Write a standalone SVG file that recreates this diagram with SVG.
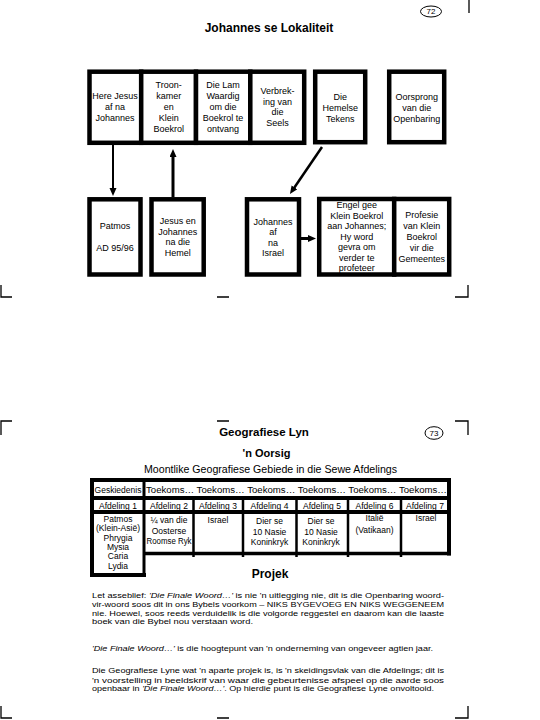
<svg xmlns="http://www.w3.org/2000/svg" width="540" height="720" viewBox="0 0 540 720">
<style>
.bx{fill:#fff;stroke:#000;stroke-width:4.5}
.t{font-family:"Liberation Sans",Arial,sans-serif;font-size:9px;fill:#000;text-anchor:middle}
.tb{font-family:"Liberation Sans",Arial,sans-serif;font-size:8.5px;fill:#000;text-anchor:middle}
.p{font-family:"Liberation Sans",Arial,sans-serif;font-size:8px;fill:#000}
.h{font-family:"Liberation Sans",Arial,sans-serif;font-weight:bold;fill:#000;text-anchor:middle}
.i{font-style:italic}
.mk{fill:none;stroke:#000;stroke-width:1.3}
.ln{stroke:#000;fill:none}
.arr{stroke:#000;fill:none;marker-end:url(#ah)}
</style>
<defs>
<marker id="ah" markerUnits="userSpaceOnUse" markerWidth="8" markerHeight="8" refX="1" refY="3.5" orient="auto">
<path d="M0,0 L8,3.5 L0,7 z" fill="#000"/>
</marker>
</defs>
<rect width="540" height="720" fill="#fff"/>

<g id="cropmarks">
<path class="mk" d="M469,0 V13"/>
<path class="mk" d="M1,285 V297 H12 M217,297 H229 M455,297 H468 V285"/>
<path class="mk" d="M1,435 V421 H12 M217,421 H229 M455,421 H468 V435"/>
<path class="mk" d="M1,706 V718 H12 M217,718 H229 M455,718 H468 V706"/>
</g>

<g id="page72">
<ellipse cx="431" cy="11.5" rx="10.5" ry="5.5" fill="none" stroke="#000" stroke-width="1"/>
<text class="t" x="431" y="14.3" style="font-size:8px">72</text>
</g>
<text id="title1" class="h" x="269" y="31.5" style="font-size:12px">Johannes se Lokaliteit</text>

<g id="n-here-jesus">
<rect class="bx" x="89.5" y="71.7" width="51.7" height="71.1"/>
<text class="t" x="115" y="99">Here Jesus</text>
<text class="t" x="115" y="110">af na</text>
<text class="t" x="115" y="121">Johannes</text>
</g>
<g id="n-troonkamer">
<rect class="bx" x="141.2" y="71.7" width="54.8" height="71.1"/>
<text class="t" x="168.7" y="88">Troon-</text>
<text class="t" x="168.7" y="99">kamer</text>
<text class="t" x="168.7" y="110">en</text>
<text class="t" x="168.7" y="121">Klein</text>
<text class="t" x="168.7" y="132">Boekrol</text>
</g>
<g id="n-lam">
<rect class="bx" x="196" y="71.7" width="54.3" height="71.1"/>
<text class="t" x="223" y="88">Die Lam</text>
<text class="t" x="223" y="99">Waardig</text>
<text class="t" x="223" y="110">om die</text>
<text class="t" x="223" y="121">Boekrol te</text>
<text class="t" x="223" y="132">ontvang</text>
</g>
<g id="n-seels">
<rect class="bx" x="250.3" y="71.7" width="53.9" height="71.1"/>
<text class="t" x="277.5" y="94">Verbrek-</text>
<text class="t" x="277.5" y="104.7">ing van</text>
<text class="t" x="277.5" y="115.3">die</text>
<text class="t" x="277.5" y="126">Seels</text>
</g>
<g id="n-tekens">
<rect class="bx" x="315.2" y="71.7" width="50" height="70.5"/>
<text class="t" x="340.2" y="100">Die</text>
<text class="t" x="340.2" y="111">Hemelse</text>
<text class="t" x="340.2" y="121.5">Tekens</text>
</g>
<g id="n-oorsprong">
<rect class="bx" x="389.2" y="71.7" width="55" height="70.5"/>
<text class="t" x="416.7" y="100">Oorsprong</text>
<text class="t" x="416.7" y="111">van die</text>
<text class="t" x="416.7" y="121.5">Openbaring</text>
</g>

<g id="n-patmos">
<rect class="bx" x="89.5" y="199.3" width="51" height="75.2"/>
<text class="t" x="115" y="229">Patmos</text>
<text class="t" x="115" y="251">AD 95/96</text>
</g>
<g id="n-hemel">
<rect class="bx" x="151.5" y="199.3" width="52.2" height="75.2"/>
<text class="t" x="177.7" y="224">Jesus en</text>
<text class="t" x="177.7" y="234.7">Johannes</text>
<text class="t" x="177.7" y="245.3">na die</text>
<text class="t" x="177.7" y="256">Hemel</text>
</g>
<g id="n-israel">
<rect class="bx" x="247" y="199.3" width="52" height="75.2"/>
<text class="t" x="273" y="224.7">Johannes</text>
<text class="t" x="273" y="235">af</text>
<text class="t" x="273" y="245.5">na</text>
<text class="t" x="273" y="256">Israel</text>
</g>
<g id="n-engel">
<rect class="bx" x="319.2" y="199" width="75" height="75.5"/>
<text class="t" x="356.7" y="208">Engel gee</text>
<text class="t" x="356.7" y="218.5">Klein Boekrol</text>
<text class="t" x="356.7" y="229">aan Johannes;</text>
<text class="t" x="356.7" y="239.5">Hy word</text>
<text class="t" x="356.7" y="250">gevra om</text>
<text class="t" x="356.7" y="260.5">verder te</text>
<text class="t" x="356.7" y="271">profeteer</text>
</g>
<g id="n-profesie">
<rect class="bx" x="394.2" y="199" width="55" height="75.5"/>
<text class="t" x="421.7" y="218">Profesie</text>
<text class="t" x="421.7" y="229">van Klein</text>
<text class="t" x="421.7" y="240">Boekrol</text>
<text class="t" x="421.7" y="251">vir die</text>
<text class="t" x="421.7" y="261.5">Gemeentes</text>
</g>

<g id="connectors">
<line class="arr" x1="113" y1="145" x2="113" y2="189" stroke-width="2"/>
<line class="arr" x1="173" y1="197" x2="173" y2="156" stroke-width="3"/>
<line class="arr" x1="322" y1="147" x2="293.9" y2="188.2" stroke-width="2.5"/>
<line class="arr" x1="300" y1="238.5" x2="309" y2="238.5" stroke-width="3"/>
</g>

<text id="title2" class="h" x="264" y="436" style="font-size:11.5px">Geografiese Lyn</text>
<g id="page73">
<ellipse cx="434" cy="433" rx="9" ry="6.3" fill="none" stroke="#000" stroke-width="1"/>
<text class="t" x="434" y="436" style="font-size:8px">73</text>
</g>
<text id="sub" class="h" x="266.5" y="457" style="font-size:11px">'n Oorsig</text>
<text id="sub2" class="t" x="270.5" y="472.5" style="font-size:10px" textLength="253" lengthAdjust="spacingAndGlyphs">Moontlike Geografiese Gebiede in die Sewe Afdelings</text>

<g id="table">
<path class="ln" stroke-width="4" d="M90,480 H451 M92,478 V577 M449,478 V555.5 M90,498 H451 M90,512 H451 M90,575 H146"/>
<path class="ln" stroke-width="3.5" d="M143,553.5 H451"/>
<path class="ln" stroke-width="3" d="M144,478 V577"/>
<path class="ln" stroke-width="2.5" d="M193.5,498 V557 M243,498 V557 M296.5,498 V557 M348,498 V557 M401,498 V557"/>
<text class="tb" x="118" y="493">Geskiedenis</text>
<text class="tb" x="146" y="493" style="text-anchor:start" textLength="301" lengthAdjust="spacingAndGlyphs">Toekoms… Toekoms… Toekoms… Toekoms… Toekoms… Toekoms…</text>
<text class="tb" x="118" y="508.5">Afdeling 1</text>
<text class="tb" x="169" y="508.5">Afdeling 2</text>
<text class="tb" x="218" y="508.5">Afdeling 3</text>
<text class="tb" x="269.5" y="508.5">Afdeling 4</text>
<text class="tb" x="322" y="508.5">Afdeling 5</text>
<text class="tb" x="374.5" y="508.5">Afdeling 6</text>
<text class="tb" x="425" y="508.5">Afdeling 7</text>
<text class="tb" x="118" y="522">Patmos</text>
<text class="tb" x="118" y="531.3">(Klein-Asië)</text>
<text class="tb" x="118" y="540.6">Phrygia</text>
<text class="tb" x="118" y="549.9">Mysia</text>
<text class="tb" x="118" y="559.2">Caria</text>
<text class="tb" x="118" y="568.5">Lydia</text>
<text class="tb" x="169" y="523">¼ van die</text>
<text class="tb" x="169" y="533.5">Oosterse</text>
<text class="tb" x="169" y="544" textLength="45" lengthAdjust="spacingAndGlyphs">Roomse Ryk</text>
<text class="tb" x="218" y="523">Israel</text>
<text class="tb" x="269.5" y="524">Dier se</text>
<text class="tb" x="269.5" y="534.5">10 Nasie</text>
<text class="tb" x="269.5" y="545">Koninkryk</text>
<text class="tb" x="321" y="524">Dier se</text>
<text class="tb" x="321" y="534.5">10 Nasie</text>
<text class="tb" x="321" y="545">Koninkryk</text>
<text class="tb" x="374.5" y="521">Italië</text>
<text class="tb" x="374.5" y="533">(Vatikaan)</text>
<text class="tb" x="426" y="521">Israel</text>
</g>

<text id="projek" class="h" x="270" y="577.5" style="font-size:12px">Projek</text>
<g id="paragraphs">
<text class="p" x="92" y="598" textLength="352" lengthAdjust="spacingAndGlyphs">Let asseblief: <tspan class="i">'Die Finale Woord…'</tspan> is nie 'n uitlegging nie, dit is die Openbaring woord-</text>
<text class="p" x="92" y="607" textLength="352" lengthAdjust="spacingAndGlyphs">vir-woord soos dit in ons Bybels voorkom – NIKS BYGEVOEG EN NIKS WEGGENEEM</text>
<text class="p" x="92" y="615.5" textLength="352" lengthAdjust="spacingAndGlyphs">nie. Hoewel, soos reeds verduidelik is die volgorde reggestel en daarom kan die laaste</text>
<text class="p" x="92" y="624" textLength="161" lengthAdjust="spacingAndGlyphs">boek van die Bybel nou verstaan word.</text>
<text class="p" x="92" y="650.5" textLength="341" lengthAdjust="spacingAndGlyphs"><tspan class="i">'Die Finale Woord…'</tspan> is die hoogtepunt van 'n onderneming van ongeveer agtien jaar.</text>
<text class="p" x="92" y="673" textLength="352" lengthAdjust="spacingAndGlyphs">Die Geografiese Lyne wat 'n aparte projek is, is 'n skeidingsvlak van die Afdelings; dit is</text>
<text class="p" x="92" y="682.5" textLength="352" lengthAdjust="spacingAndGlyphs">'n voorstelling in beeldskrif van waar die gebeurtenisse afspeel op die aarde soos</text>
<text class="p" x="92" y="691" textLength="342" lengthAdjust="spacingAndGlyphs">openbaar in <tspan class="i">'Die Finale Woord…'</tspan>. Op hierdie punt is die Geografiese Lyne onvoltooid.</text>
</g>
</svg>
